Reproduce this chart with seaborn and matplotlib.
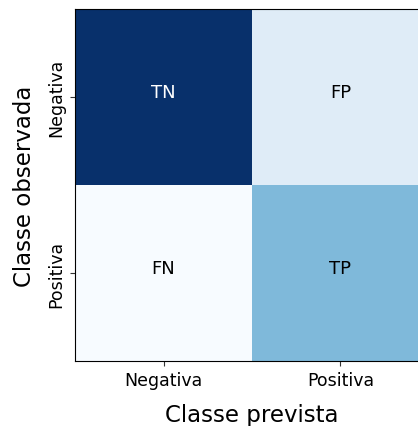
import numpy as np
import matplotlib
matplotlib.use("Agg")
import matplotlib.pyplot as plt
import seaborn as sns

# Confusion-matrix layout: rows = observed class, columns = predicted class
classes = ["Negativa", "Positiva"]
cell_labels = [["TN", "FP"],
               ["FN", "TP"]]
cell_shade = [[1.00, 0.12],
              [0.00, 0.45]]

fig = plt.figure(figsize=(4.18, 4.27), dpi=100)
ax = fig.add_axes([75 / 418, 65 / 427, 354 / 418, 352 / 427])

sns.heatmap(np.array(cell_shade), cmap="Blues", vmin=0, vmax=1, cbar=False,
            annot=np.array(cell_labels), fmt="", annot_kws={"fontsize": 13},
            xticklabels=classes, yticklabels=classes, ax=ax)

# Pure black / white cell text sitting on the cell centre line
for txt, shade in zip(ax.texts, np.array(cell_shade).ravel()):
    txt.set_color("white" if shade > 0.6 else "black")
    txt.set_va("baseline")

for side in ["left", "bottom", "top", "right"]:
    ax.spines[side].set_visible(True)
    ax.spines[side].set_color("black")
    ax.spines[side].set_linewidth(0.8)

ax.tick_params(axis="both", labelsize=12.5, length=3.5, color="#333333")
plt.setp(ax.get_yticklabels(), rotation=90, va="center")
plt.setp(ax.get_xticklabels(), rotation=0)
ax.set_xlabel("Classe prevista", fontsize=16.5, labelpad=10)
ax.set_ylabel("Classe observada", fontsize=16.5, labelpad=8)

fig.savefig("out.png", dpi=100)
